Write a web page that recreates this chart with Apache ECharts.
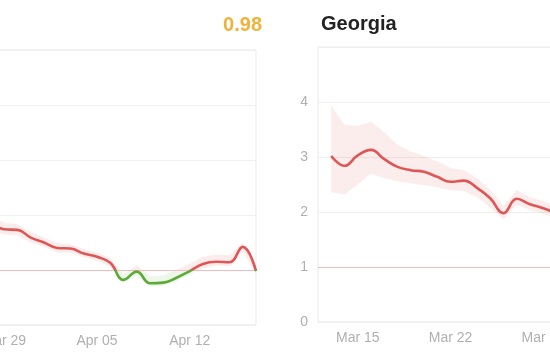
<!DOCTYPE html>
<html><head><meta charset="utf-8">
<script src="https://cdn.jsdelivr.net/npm/echarts@6/dist/echarts.min.js"></script>
<style>html,body{margin:0;padding:0;background:#fff}#c{width:550px;height:360px}</style>
</head><body><div id="c"></div>
<script>
// ---------- data ----------
const axisStart = '2020-03-12';
const axisEnd = '2020-04-17';

// Left panel (state cut off on the left), latest Rt 0.98
const leftDates = ['2020-03-27','2020-03-28','2020-03-29','2020-03-30','2020-03-31','2020-04-01','2020-04-02','2020-04-03','2020-04-04','2020-04-05','2020-04-06','2020-04-07','2020-04-08','2020-04-09','2020-04-10','2020-04-11','2020-04-12','2020-04-13','2020-04-14','2020-04-15','2020-04-16','2020-04-17'];
const leftRt    = [1.95,1.85,1.74,1.73,1.59,1.50,1.40,1.39,1.30,1.24,1.13,0.82,0.97,0.76,0.77,0.86,0.98,1.11,1.15,1.14,1.42,0.98];
const leftUpper = [2.08,1.97,1.86,1.83,1.69,1.59,1.49,1.47,1.38,1.32,1.22,0.92,1.09,0.88,0.90,1.00,1.12,1.24,1.28,1.27,1.50,1.01];
const leftLower = [1.84,1.74,1.64,1.63,1.50,1.42,1.32,1.31,1.23,1.17,1.06,0.76,0.90,0.70,0.71,0.80,0.92,1.03,1.08,1.07,1.34,0.94];
const leftTickDates  = ['2020-03-29','2020-04-05','2020-04-12'];
const leftTickLabels = ['Mar 29','Apr 05','Apr 12'];
const leftValueText = '0.98';

// Right panel: Georgia
const geoName = 'Georgia';
const geoDates = ['2020-03-13','2020-03-14','2020-03-15','2020-03-16','2020-03-17','2020-03-18','2020-03-19','2020-03-20','2020-03-21','2020-03-22','2020-03-23','2020-03-24','2020-03-25','2020-03-26','2020-03-27','2020-03-28','2020-03-29','2020-03-30','2020-03-31'];
const geoRt    = [3.02,2.84,3.03,3.13,2.96,2.82,2.76,2.73,2.64,2.55,2.57,2.44,2.25,1.98,2.24,2.14,2.07,1.98,1.93];
const geoUpper = [3.93,3.58,3.57,3.64,3.45,3.22,3.10,3.02,2.92,2.80,2.76,2.62,2.40,2.12,2.40,2.27,2.20,2.10,2.05];
const geoLower = [2.36,2.32,2.50,2.70,2.62,2.56,2.52,2.49,2.45,2.40,2.38,2.27,2.08,1.87,2.13,2.03,1.97,1.89,1.85];
const geoTickDates  = ['2020-03-15','2020-03-22','2020-03-29'];
const geoTickLabels = ['Mar 15','Mar 22','Mar 29'];

const yMin = 0, yMax = 5, yStep = 1, threshold = 1;

// ---------- helpers ----------
const pad = n => String(n).padStart(2, '0');
const allDates = (() => {
  const out = []; const s = new Date(axisStart + 'T00:00:00Z'), e = new Date(axisEnd + 'T00:00:00Z');
  for (let d = s; d <= e; d = new Date(d.getTime() + 86400000))
    out.push(d.getUTCFullYear() + '-' + pad(d.getUTCMonth() + 1) + '-' + pad(d.getUTCDate()));
  return out;
})();
// align a series onto the full category list ('-' = no data)
const align = (dates, vals) => allDates.map(c => { const i = dates.indexOf(c); return i >= 0 ? vals[i] : '-'; });
const alignDiff = (dates, up, lo) => allDates.map(c => { const i = dates.indexOf(c); return i >= 0 ? +(up[i] - lo[i]).toFixed(3) : '-'; });

const RED = '#df5656', GREEN = '#5caa38';
const RED_BAND = 'rgba(225,86,86,0.11)', GREEN_BAND = 'rgba(92,170,56,0.10)';
const labelFont = { color: '#b0b0b0', fontSize: 14, fontFamily: 'Liberation Sans, Arial, sans-serif' };

function xAxisFor(gridIndex, tickDates, tickLabels) {
  return {
    type: 'category', gridIndex, data: allDates, boundaryGap: false,
    axisLine: { show: false }, axisTick: { show: false }, splitLine: { show: false },
    axisLabel: Object.assign({
      margin: 9, hideOverlap: false,
      interval: (i, v) => tickDates.indexOf(v) >= 0,
      formatter: v => { const i = tickDates.indexOf(v); return i >= 0 ? tickLabels[i] : ''; }
    }, labelFont)
  };
}
function yAxisFor(gridIndex) {
  return {
    type: 'value', gridIndex, min: yMin, max: yMax, interval: yStep,
    axisLine: { show: false }, axisTick: { show: false },
    splitLine: { show: true, lineStyle: { color: '#efefef', width: 1 } },
    axisLabel: Object.assign({ margin: 10, formatter: v => (v === yMax ? '' : String(v)) }, labelFont)
  };
}
function bandSeries(idx, dates, up, lo) {
  return [
    { type: 'line', xAxisIndex: idx, yAxisIndex: idx, stack: 'band' + idx, data: align(dates, lo),
      symbol: 'none', lineStyle: { opacity: 0 }, silent: true, z: 2,
      markLine: { silent: true, symbol: 'none', label: { show: false },
        lineStyle: { color: '#f2bcbc', width: 1, type: 'solid' }, data: [{ yAxis: threshold }] } },
    { type: 'line', xAxisIndex: idx, yAxisIndex: idx, stack: 'band' + idx, data: alignDiff(dates, up, lo),
      symbol: 'none', lineStyle: { opacity: 0 }, areaStyle: { opacity: 1, color: RED_BAND }, silent: true, z: 2 }
  ];
}
function rtSeries(idx, dates, vals) {
  return { type: 'line', xAxisIndex: idx, yAxisIndex: idx, data: align(dates, vals), smooth: 0.45,
    symbol: 'none', lineStyle: { width: 2.6, color: RED }, z: 10 };
}

const series = [
  ...bandSeries(0, leftDates, leftUpper, leftLower),   // 0,1
  rtSeries(0, leftDates, leftRt),                      // 2
  ...bandSeries(1, geoDates, geoUpper, geoLower),      // 3,4
  rtSeries(1, geoDates, geoRt)                         // 5
];

const option = {
  animation: false,
  backgroundColor: '#ffffff',
  grid: [
    { left: -221, right: 294, top: 50, bottom: 35, show: true, borderColor: '#e9e9e9', borderWidth: 1, outerBoundsMode: 'none', containLabel: false },
    { left: 318, right: -245, top: 47, bottom: 38, show: true, borderColor: '#e9e9e9', borderWidth: 1, outerBoundsMode: 'none', containLabel: false }
  ],
  xAxis: [xAxisFor(0, leftTickDates, leftTickLabels), xAxisFor(1, geoTickDates, geoTickLabels)],
  yAxis: [yAxisFor(0), yAxisFor(1)],
  graphic: [
    { type: 'text', x: 321, y: 24, style: { text: geoName, fill: '#222222', align: 'left', verticalAlign: 'middle',
      font: 'bold 20px "Liberation Sans", Arial, sans-serif' } },
    { type: 'text', x: 262, y: 25.5, style: { text: leftValueText, fill: '#efb23a', align: 'right', verticalAlign: 'middle',
      font: 'bold 20px "Liberation Sans", Arial, sans-serif' } }
  ],
  series
};

const chart = echarts.init(document.getElementById('c'), null, { renderer: 'canvas' });
chart.setOption(option);

// Colour split at Rt = 1, positioned through the library's own y scale
function splitGradient(gridIndex, above, below) {
  const yTop = chart.convertToPixel({ gridIndex }, [0, yMax])[1];
  const yBot = chart.convertToPixel({ gridIndex }, [0, yMin])[1];
  const yThr = chart.convertToPixel({ gridIndex }, [0, threshold])[1];
  const t = (yThr - yTop) / (yBot - yTop);
  return new echarts.graphic.LinearGradient(0, yTop, 0, yBot, [
    { offset: 0, color: above }, { offset: t, color: above },
    { offset: t, color: below }, { offset: 1, color: below }
  ], true);
}
chart.setOption({ series: [
  {}, { areaStyle: { color: splitGradient(0, RED_BAND, GREEN_BAND) } },
  { lineStyle: { color: splitGradient(0, RED, GREEN) } },
  {}, { areaStyle: { color: splitGradient(1, RED_BAND, GREEN_BAND) } },
  { lineStyle: { color: splitGradient(1, RED, GREEN) } }
] });
</script>
</body></html>
